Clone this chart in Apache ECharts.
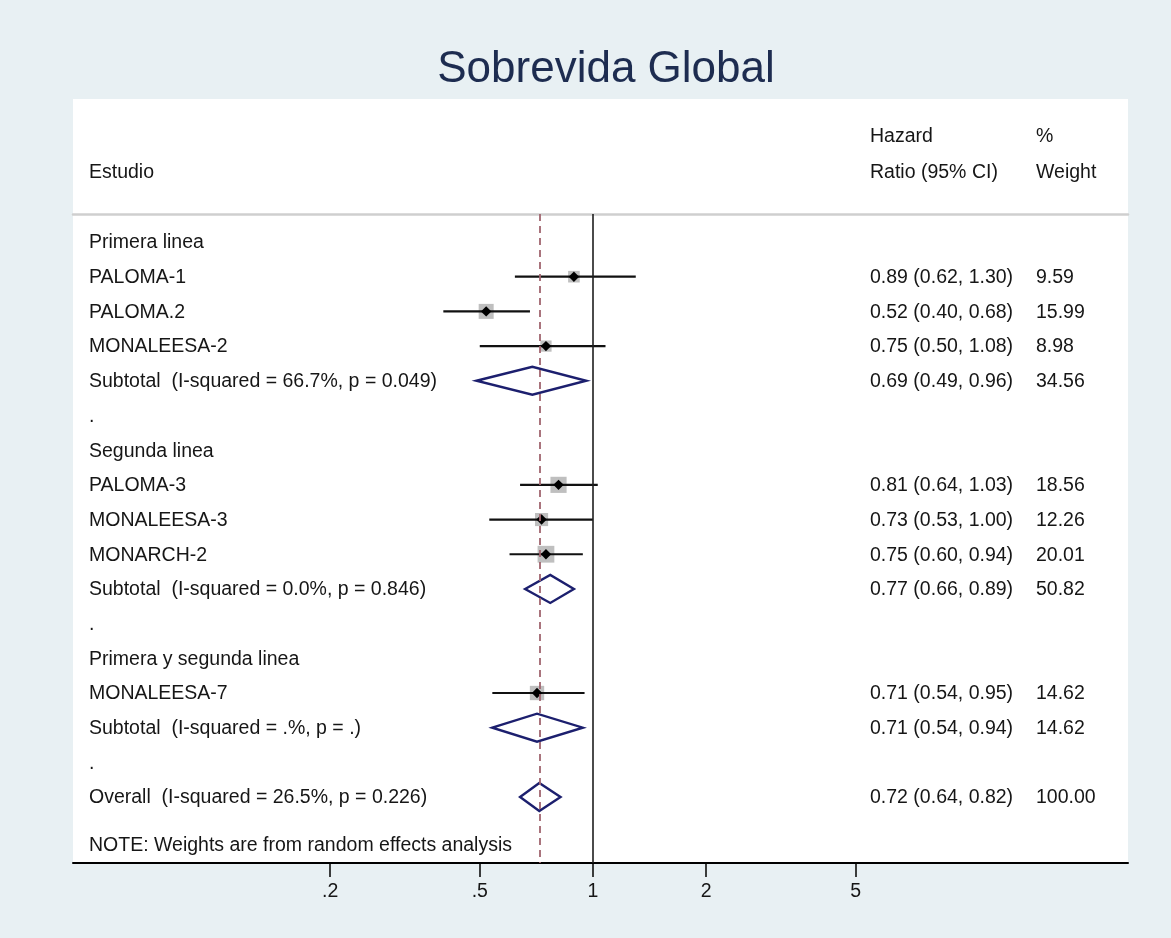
<!DOCTYPE html>
<html>
<head>
<meta charset="utf-8">
<script src="https://cdn.jsdelivr.net/npm/echarts@6/dist/echarts.min.js"></script>
<style>
html,body{margin:0;padding:0;background:#e8f0f3;}
#chart{width:1171px;height:938px;}
</style>
</head>
<body>
<div id="chart"></div>
<script>
// ---------------- data ----------------
const titleText = 'Sobrevida Global';
const rowLabels = [
  'Primera linea',
  'PALOMA-1',
  'PALOMA.2',
  'MONALEESA-2',
  'Subtotal  (I-squared = 66.7%, p = 0.049)',
  '.',
  'Segunda linea',
  'PALOMA-3',
  'MONALEESA-3',
  'MONARCH-2',
  'Subtotal  (I-squared = 0.0%, p = 0.846)',
  '.',
  'Primera y segunda linea',
  'MONALEESA-7',
  'Subtotal  (I-squared = .%, p = .)',
  '.',
  'Overall  (I-squared = 26.5%, p = 0.226)'
];
const rowType = ['group','study','study','study','pooled','blank',
                 'group','study','study','study','pooled','blank',
                 'group','study','pooled','blank','pooled'];
const hazardRatio = [null,0.89,0.52,0.75,0.69,null,null,0.81,0.73,0.75,0.77,null,null,0.71,0.71,null,0.72];
const ciLow       = [null,0.62,0.40,0.50,0.49,null,null,0.64,0.53,0.60,0.66,null,null,0.54,0.54,null,0.64];
const ciHigh      = [null,1.30,0.68,1.08,0.96,null,null,1.03,1.00,0.94,0.89,null,null,0.95,0.94,null,0.82];
const weightPct   = [null,9.59,15.99,8.98,34.56,null,null,18.56,12.26,20.01,50.82,null,null,14.62,14.62,null,100.00];
const tickValues = [0.2, 0.5, 1, 2, 5];
const tickLabels = ['.2', '.5', '1', '2', '5'];
const headerLeft = ['', 'Estudio'];
const headerMid = ['Hazard', 'Ratio (95% CI)'];
const headerRight = ['%', 'Weight'];
const noteText = 'NOTE: Weights are from random effects analysis';
const nullEffect = 1;
const overallHR = hazardRatio[16];

// ---------------- layout / style ----------------
const FONT = '"Liberation Sans", Arial, Helvetica, sans-serif';
const FS = 19.5;
const TXT = '#161616';
const G = {left: 73, right: 43, top: 214, bottom: 75};
const PANEL = {x: 73, y: 99, w: 1055, h: 764};
const COL_HR = 797;   // offset from grid left
const COL_W = 963;
const NOTE_ROW = 17.38;

function fmt(v){ return v.toFixed(2); }

const textData = rowLabels.map((l, i) => [1, i]);
textData.push([1, NOTE_ROW]);

const studyData = [];
const pooledData = [];
rowType.forEach((t, i) => {
  if (t === 'study') studyData.push([hazardRatio[i], i, ciLow[i], ciHigh[i], weightPct[i]]);
  if (t === 'pooled') pooledData.push([hazardRatio[i], i, ciLow[i], ciHigh[i], weightPct[i]]);
});

function txt(x, y, s, align) {
  return {
    type: 'text',
    style: {
      x: x, y: y, text: s, fill: TXT,
      font: FS + 'px ' + FONT,
      textAlign: align || 'left', textVerticalAlign: 'middle',
      align: align || 'left', verticalAlign: 'middle'
    }
  };
}
function htxt(x, y, s) {
  return {type: 'text', z: 5, style: {x: x, y: y, text: s, fill: TXT, font: FS + 'px ' + FONT, verticalAlign: 'middle', textVerticalAlign: 'middle'}};
}

const chart = echarts.init(document.getElementById('chart'), null, {renderer: 'canvas'});
const logMin = 0.0414, logMax = 26.5;

const option = {
  backgroundColor: '#e8f0f3',
  animation: false,
  title: {
    text: titleText,
    left: 601, top: 43,
    textAlign: 'center',
    textStyle: {fontFamily: FONT, fontSize: 44, fontWeight: 'normal', color: '#1d2c50'}
  },
  graphic: [
    {type: 'rect', z: -10, shape: {x: PANEL.x, y: PANEL.y, width: PANEL.w, height: PANEL.h}, style: {fill: '#ffffff'}},
    htxt(89, 173, headerLeft[1]),
    htxt(870, 137, headerMid[0]),
    htxt(870, 173, headerMid[1]),
    htxt(1036, 137, headerRight[0]),
    htxt(1036, 173, headerRight[1])
  ],
  grid: G,
  xAxis: [
    {
      type: 'log', min: logMin, max: logMax, position: 'bottom',
      axisLine: {show: true, onZero: false, lineStyle: {color: '#000', width: 2}},
      axisTick: {show: true, customValues: tickValues, length: 14, lineStyle: {color: '#000', width: 1.5}},
      axisLabel: {
        show: true, customValues: tickValues, margin: 19,
        fontFamily: FONT, fontSize: FS, color: TXT,
        formatter: function (v) {
          const k = tickValues.findIndex(t => Math.abs(t - v) < 1e-9);
          return k >= 0 ? tickLabels[k] : '';
        }
      },
      splitLine: {show: false},
      minorTick: {show: false}
    },
    {
      type: 'log', min: logMin, max: logMax, position: 'top',
      axisLine: {show: true, onZero: false, lineStyle: {color: '#cfcfcf', width: 2.5}},
      axisTick: {show: false}, axisLabel: {show: false}, splitLine: {show: false}
    }
  ],
  yAxis: {type: 'value', inverse: true, min: -0.807, max: 17.9, show: false, splitLine: {show: false}},
  series: [
    {
      // reference lines
      type: 'custom', xAxisIndex: 0, z: 1,
      data: [],
      renderItem: function(){ return null; },
      markLine: {
        silent: true, symbol: ['none', 'none'], label: {show: false},
        data: [
          {xAxis: nullEffect, lineStyle: {type: 'solid', color: '#1e1e1e', width: 1.6}},
          {xAxis: overallHR, lineStyle: {type: [7, 5], color: '#a0656f', width: 1.8}}
        ]
      }
    },
    {
      // row text
      type: 'custom', xAxisIndex: 0, z: 3, clip: false,
      encode: {x: 0, y: 1},
      data: textData,
      renderItem: function (params, api) {
        const i = params.dataIndex;
        const cs = params.coordSys;
        const y = api.coord([1, api.value(1)])[1] + 1;
        if (i >= rowLabels.length) {
          return txt(cs.x + 16, y, noteText);
        }
        const children = [txt(cs.x + 16, y, rowLabels[i])];
        if (hazardRatio[i] != null) {
          children.push(txt(cs.x + COL_HR, y, fmt(hazardRatio[i]) + ' (' + fmt(ciLow[i]) + ', ' + fmt(ciHigh[i]) + ')'));
          children.push(txt(cs.x + COL_W, y, fmt(weightPct[i])));
        }
        return {type: 'group', children: children};
      }
    },
    {
      // individual studies
      type: 'custom', xAxisIndex: 0, z: 4,
      encode: {x: [0, 2, 3], y: 1},
      data: studyData,
      renderItem: function (params, api) {
        const r = api.value(1);
        const p = api.coord([api.value(0), r]);
        const lo = api.coord([api.value(2), r]);
        const hi = api.coord([api.value(3), r]);
        const s = 3.75 * Math.sqrt(api.value(4));
        const d = 5.2;
        return {
          type: 'group',
          children: [
            {type: 'rect', shape: {x: p[0] - s / 2, y: p[1] - s / 2, width: s, height: s}, style: {fill: '#bfbfbf'}},
            {type: 'line', shape: {x1: lo[0], y1: p[1], x2: hi[0], y2: p[1]}, style: {stroke: '#111', lineWidth: 2.2}},
            {type: 'polygon', shape: {points: [[p[0] - d, p[1]], [p[0], p[1] - d], [p[0] + d, p[1]], [p[0], p[1] + d]]}, style: {fill: '#000'}}
          ]
        };
      }
    },
    {
      // pooled estimates
      type: 'custom', xAxisIndex: 0, z: 4,
      encode: {x: [0, 2, 3], y: 1},
      data: pooledData,
      renderItem: function (params, api) {
        const r = api.value(1);
        const p = api.coord([api.value(0), r]);
        const lo = api.coord([api.value(2), r]);
        const hi = api.coord([api.value(3), r]);
        const h = 14;
        return {
          type: 'polygon',
          shape: {points: [[lo[0], p[1]], [p[0], p[1] - h], [hi[0], p[1]], [p[0], p[1] + h]]},
          style: {fill: 'none', stroke: '#1c1f6e', lineWidth: 2.4, lineJoin: 'miter'}
        };
      }
    }
  ]
};
chart.setOption(option);
</script>
</body>
</html>
